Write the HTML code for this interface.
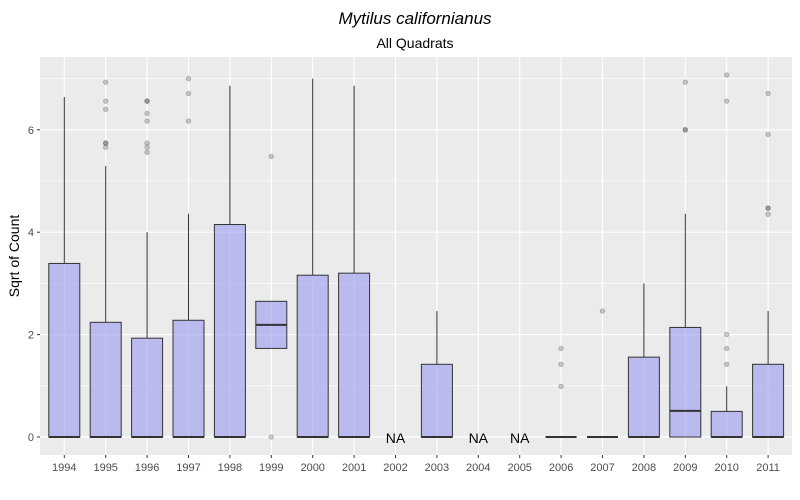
<!DOCTYPE html>
<html><head><meta charset="utf-8"><style>
body{margin:0;background:#fff}
svg{display:block;font-family:"Liberation Sans",Arial,sans-serif}
</style></head><body>
<svg id="chart" width="800" height="500" viewBox="0 0 800 500" xmlns="http://www.w3.org/2000/svg">
<rect x="0" y="0" width="800" height="500" fill="#fff"/>
<text x="415" y="24" text-anchor="middle" font-size="17" font-style="italic" fill="#000">Mytilus californianus</text>
<text x="415" y="48" text-anchor="middle" font-size="14" fill="#000">All Quadrats</text>
<rect x="40" y="57" width="752" height="398" fill="#EBEBEB"/>
<g id="grid"></g>
<g id="boxes"></g>
<g id="axes"></g>
<text transform="translate(19,256) rotate(-90)" text-anchor="middle" font-size="14" fill="#000">Sqrt of Count</text>
</svg>
<script>
const years = ["1994","1995","1996","1997","1998","1999","2000","2001","2002","2003","2004","2005","2006","2007","2008","2009","2010","2011"];
// [whiskerLow, q1, median, q3, whiskerHigh]; null => NA
const stats = [
 [0,0,0,3.39,6.64],[0,0,0,2.24,5.29],[0,0,0,1.93,4.0],[0,0,0,2.28,4.36],[0,0,0,4.15,6.86],
 [1.73,1.73,2.19,2.65,2.65],[0,0,0,3.16,7.0],[0,0,0,3.2,6.86],null,[0,0,0,1.42,2.46],null,null,
 [0,0,0,0,0],[0,0,0,0,0],[0,0,0,1.56,3.0],[0,0,0.51,2.14,4.36],[0,0,0,0.5,0.99],[0,0,0,1.42,2.46]
];
const outliers = [
 [],[6.93,6.56,6.40,5.74,5.74,5.66],[6.56,6.56,6.32,6.17,5.74,5.66,5.56],[7.0,6.71,6.17],[],
 [5.48,0],[],[],[],[],[],[],[1.73,1.42,0.99],[2.46],[],[6.93,6.0,6.0],[7.07,6.56,2.0,1.73,1.42],[6.71,5.91,4.47,4.47,4.35]
];
const yTicks = [0,2,4,6];
const yMinor = [1,3,5,7];
const NS="http://www.w3.org/2000/svg";
const x0=64.3, step=41.4, y0=437, ys=51.2, bw=31;
const X=i=>x0+i*step, Y=v=>y0-v*ys;
function mk(t,a,p){const e=document.createElementNS(NS,t);for(const k in a)e.setAttribute(k,a[k]);p.appendChild(e);return e;}
const grid=document.getElementById('grid'),boxes=document.getElementById('boxes'),axes=document.getElementById('axes');
yMinor.forEach(v=>{const l=mk('line',{x1:40,x2:792,y1:Y(v),y2:Y(v),stroke:'#fff','stroke-width':0.6},grid);
});
yTicks.forEach(v=>{const l=mk('line',{x1:40,x2:792,y1:Y(v),y2:Y(v),stroke:'#fff','stroke-width':1.2},grid);

const t=mk('text',{x:34,y:Y(v)+4,'text-anchor':'end','font-size':11,fill:'#4D4D4D'},axes);t.textContent=v;

const k=mk('line',{x1:37,x2:40,y1:Y(v),y2:Y(v),stroke:'#333','stroke-width':1},axes);
});
years.forEach((yr,i)=>{const l=mk('line',{x1:X(i),x2:X(i),y1:57,y2:455,stroke:'#fff','stroke-width':1.2},grid);

const k=mk('line',{x1:X(i),x2:X(i),y1:455,y2:458,stroke:'#333','stroke-width':1},axes);

const t=mk('text',{x:X(i),y:471,'text-anchor':'middle','font-size':11,fill:'#4D4D4D'},axes);t.textContent=yr;

const s=stats[i];const g=mk('g',{},boxes);

if(!s){const n=mk('text',{x:X(i),y:Y(0)+6,'text-anchor':'middle','font-size':14,fill:'#000'},g);n.textContent='NA';
return;}
const [wl,q1,md,q3,wh]=s;
const w1=mk('line',{x1:X(i),x2:X(i),y1:Y(q3),y2:Y(wh),stroke:'#333','stroke-width':1},g);

const w2=mk('line',{x1:X(i),x2:X(i),y1:Y(wl),y2:Y(q1),stroke:'#333','stroke-width':1},g);

const r=mk('rect',{x:X(i)-bw/2,y:Y(q3),width:bw,height:Math.max(0,Y(q1)-Y(q3)),fill:'rgb(153,153,240)','fill-opacity':0.6,stroke:'#333','stroke-width':1},g);

const m=mk('line',{x1:X(i)-bw/2,x2:X(i)+bw/2,y1:Y(md),y2:Y(md),stroke:'#333','stroke-width':2},g);

outliers[i].forEach(v=>{const c=mk('circle',{cx:X(i),cy:Y(v),r:2.3,fill:'#000','fill-opacity':0.2,stroke:'#000','stroke-opacity':0.2,'stroke-width':0.8},g);
});
});
</script>
</body></html>
